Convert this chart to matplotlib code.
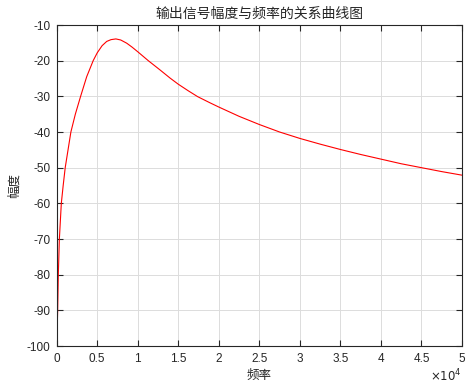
import matplotlib
matplotlib.use("Agg")
import matplotlib.pyplot as plt
from matplotlib.ticker import FuncFormatter

# values (Hz, dB)
freq = [0, 30, 60, 120, 200, 330, 570, 800, 1050, 1400, 1750, 2300, 2950,
        3700, 4500, 5000, 5600, 6170, 6700, 7300, 7900, 8640, 9300, 10000,
        11300, 12750, 14000, 15000, 16200, 17400, 18900, 20000, 22500,
        25000, 27500, 30000, 32500, 35000, 37500, 40000, 42500, 45000,
        47500, 50000]
amp = [-100, -97, -95, -90, -80, -70, -60, -55, -50, -45, -40, -35, -30,
       -24.5, -20, -17.8, -15.8, -14.6, -14.1, -13.9, -14.2, -15.1, -16.2,
       -17.5, -20, -22.6, -24.9, -26.6, -28.4, -30.1, -31.8, -33.0, -35.6,
       -37.9, -40.0, -41.8, -43.4, -44.9, -46.3, -47.6, -48.9, -50.0,
       -51.1, -52.1]

x_ticks = [0, 5000, 10000, 15000, 20000, 25000, 30000, 35000, 40000, 45000, 50000]
y_ticks = [-100, -90, -80, -70, -60, -50, -40, -30, -20, -10]

plt.rcParams["font.family"] = ["Liberation Sans", "Noto Sans CJK SC"]
plt.rcParams["axes.unicode_minus"] = False

ink = "#262626"
fig = plt.figure(figsize=(4.67, 3.86), dpi=100)
ax = fig.add_axes([0.1214, 0.1036, 0.8679, 0.8316])

ax.plot(freq, amp, color="#ff0000", linewidth=0.8)

ax.set_xlim(0, 50000)
ax.set_ylim(-100, -10)
ax.set_xticks(x_ticks)
ax.set_yticks(y_ticks)
ax.xaxis.set_major_formatter(FuncFormatter(lambda v, p: f"{v / 1e4:g}"))
ax.tick_params(direction="in", top=True, right=True, length=4, width=0.8,
               colors=ink, labelsize=8.5, labelcolor=ink)
ax.tick_params(axis="x", pad=5)
ax.tick_params(axis="y", pad=4.5)
ax.grid(True, color="#dcdcdc", linewidth=0.7)
ax.set_axisbelow(True)
for s in ax.spines.values():
    s.set_color(ink)
    s.set_linewidth(0.8)

cjk = ["Noto Sans CJK SC", "DejaVu Sans"]
ax.set_title("输出信号幅度与频率的关系曲线图", family=cjk, fontsize=10,
             color=ink, pad=5)
ax.set_xlabel("频率", family=cjk, fontsize=9, color=ink, labelpad=3)
ax.set_ylabel("幅度", family=cjk, fontsize=9, color=ink, labelpad=4)
fig.text(462 / 467, 2 / 386, r"$\times10^{4}$", ha="right", va="bottom",
         fontsize=8.5, color=ink)

fig.savefig("out.png", dpi=100)
